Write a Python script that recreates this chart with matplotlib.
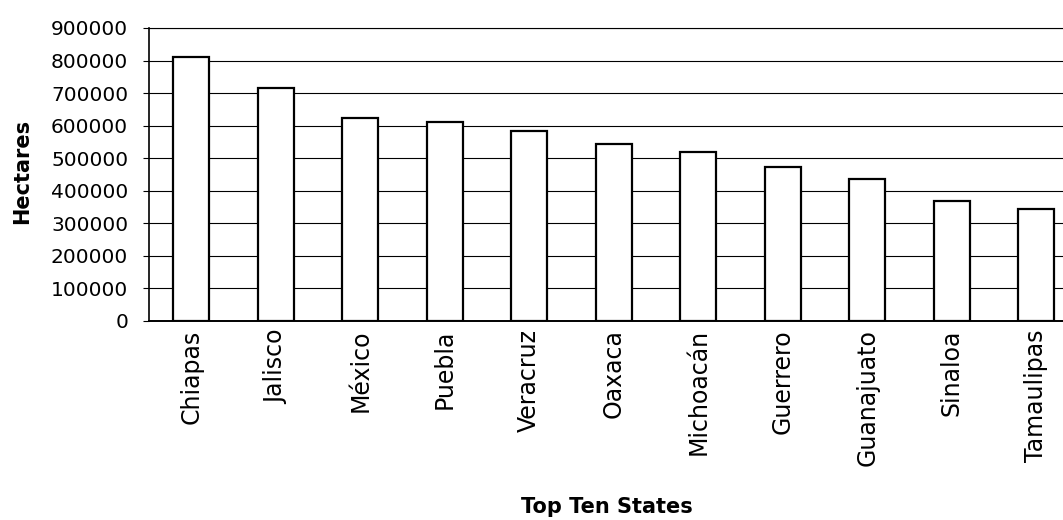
import numpy as np
import matplotlib.pyplot as plt

states = ['Chiapas', 'Jalisco', 'México', 'Puebla', 'Veracruz', 'Oaxaca',
          'Michoacán', 'Guerrero', 'Guanajuato', 'Sinaloa', 'Tamaulipas']
hectares = [810000, 715000, 625000, 610000, 585000, 545000,
            518000, 472000, 435000, 370000, 344000]
yticks = list(range(0, 900001, 100000))

plt.rcParams['font.family'] = ['DejaVu Sans']

fig = plt.figure(figsize=(10.63, 5.2), dpi=100)
ax = fig.add_axes([0.1402, 0.3827, 0.86, 0.5635])

x = np.arange(len(states))
ax.bar(x, hectares, width=0.43, color='white', edgecolor='black',
       linewidth=1.6, zorder=3)

ax.set_xlim(-0.5, 10.32)
ax.set_ylim(0, 900000)
ax.set_yticks(yticks)
ax.set_yticklabels([str(v) for v in yticks], fontsize=14.5)
ax.yaxis.grid(True, color='black', linewidth=0.8, zorder=0)
ax.set_axisbelow(True)

ax.set_xticks(x)
ax.set_xticklabels(states, rotation=90, fontsize=17, va='top')
ax.tick_params(axis='x', length=0, pad=6)
ax.tick_params(axis='y', length=4, width=0.8, pad=11)

ax.spines['right'].set_visible(False)
ax.spines['top'].set_linewidth(0.8)
ax.spines['left'].set_linewidth(1.2)
ax.spines['bottom'].set_linewidth(1.4)

fig.text(0.021, 0.67, 'Hectares', rotation=90, ha='center', va='center',
         fontsize=15, fontweight='bold')
fig.text(0.571, 0.025, 'Top Ten States', ha='center', va='center',
         fontsize=15, fontweight='bold')

plt.savefig('out.png', dpi=100)
